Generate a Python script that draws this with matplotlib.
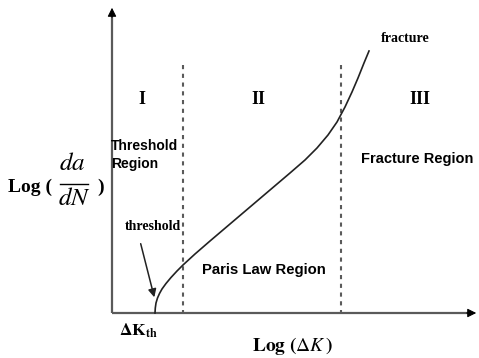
import matplotlib
matplotlib.use("Agg")
import matplotlib.pyplot as plt

plt.rcParams['font.family'] = ['Liberation Serif', 'DejaVu Serif']
plt.rcParams['mathtext.fontset'] = 'stix'

# schematic crack growth curve (picture units, y grows downward)
curve_x = [155, 155.3, 156, 157.5, 159.5, 162, 166, 171, 177, 183, 195, 210,
           230, 250, 270, 290, 305, 317, 328, 337, 345, 352, 358, 364, 369]
curve_y = [313, 308, 303, 298, 293.5, 289, 283.5, 277.5, 271, 265, 254, 241,
           224, 207, 190, 173, 160, 148, 135, 122, 107, 92, 78, 63, 51]

region_bounds = [183, 341]
roman_labels = ['I', 'II', 'III']
roman_x = [142, 258, 420]

axis_col = '#5a5a5a'
x0, y0 = 112, 313

fig = plt.figure(figsize=(4.79, 3.58), dpi=100)
ax = fig.add_axes([0, 0, 1, 1])
ax.set_xlim(0, 479)
ax.set_ylim(358, 0)
ax.axis('off')

# axes with arrows
ax.plot([x0, x0], [y0, 14], color=axis_col, lw=1.6, solid_capstyle='butt')
ax.plot([x0, 470], [y0, y0], color=axis_col, lw=1.6, solid_capstyle='butt')
ax.annotate('', xy=(x0, 5), xytext=(x0, 20),
            arrowprops=dict(arrowstyle='-|>', color='black', lw=0.8,
                            mutation_scale=13))
ax.annotate('', xy=(479, y0), xytext=(464, y0),
            arrowprops=dict(arrowstyle='-|>', color='black', lw=0.8,
                            mutation_scale=13))

# region boundaries
for xb in region_bounds:
    ax.plot([xb, xb], [65, y0], color=axis_col, lw=1.5, ls=(0, (2, 2.2)))

ax.plot(curve_x, curve_y, color='#222222', lw=1.2)

for lab, xr in zip(roman_labels, roman_x):
    ax.text(xr, 99, lab, ha='center', va='center', fontsize=13,
            fontweight='bold')

ax.text(405, 38, 'fracture', ha='center', va='center', fontsize=10,
        fontweight='bold')

sans = ['Liberation Sans', 'DejaVu Sans']
ax.text(111, 155, 'Threshold\nRegion', ha='left', va='center', fontsize=10,
        fontweight='bold', family=sans, linespacing=1.3)
ax.text(417, 159, 'Fracture Region', ha='center', va='center', fontsize=10.5,
        fontweight='bold', family=sans)
ax.text(264, 270, 'Paris Law Region', ha='center', va='center', fontsize=10.7,
        fontweight='bold', family=sans)

ax.text(153, 227, 'threshold', ha='center', va='center', fontsize=10,
        fontweight='bold')
ax.annotate('', xy=(155, 300), xytext=(140, 241),
            arrowprops=dict(arrowstyle='-|>', color='#222222', lw=1.1,
                            mutation_scale=12))

ax.text(138, 331, r'$\mathbf{\Delta K_{th}}$', ha='center', va='center',
        fontsize=12.5)
ax.text(292, 346, r'$\mathbf{Log\ (}\Delta K\mathbf{\,)}$', ha='center',
        va='center', fontsize=14)

# y label: Log ( da / dN )
ax.text(8, 187, 'Log (', ha='left', va='center', fontsize=14,
        fontweight='bold')
ax.text(72, 164, r'$da$', ha='center', va='center', fontsize=18)
ax.plot([60, 88], [184, 184], color='black', lw=1.0)
ax.text(74, 199, r'$dN$', ha='center', va='center', fontsize=18)
ax.text(97, 187, ')', ha='left', va='center', fontsize=14,
        fontweight='bold')

fig.savefig('out.png', dpi=100)
